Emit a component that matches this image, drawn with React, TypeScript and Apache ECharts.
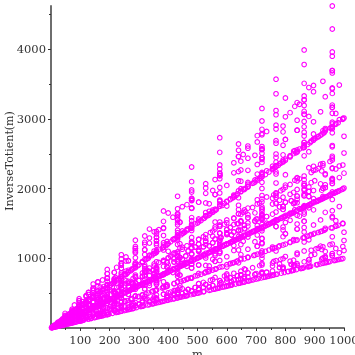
import React, { useEffect, useRef } from "react";
import * as echarts from "echarts";

// Each family: one m list followed by the n lists plotted at those m.
const aM = [2,4,6,10,12,16,18,22,28,30,36,40,42,46,52,58,60,66,70,72,78,82,88,96,100,102,106,108,112,126,130,136,138,148,150,156,162,166,172,178,180,190,192,196,198,210,222,226,228,232,238,240,250,256,262,268,270,276,280,282,292,306,310,312,316,330,336,346,348,352,358,366,372,378,382,388,396,400,408,418,420,430,432,438,442,448,456,460,462,466,478,486,490,498,502,508,520,522,540,546,556,562,568,570,576,586,592,598,600,606,612,616,618,630,640,642,646,652,658,660,672,676,682,690,700,708,718,726,732,738,742,750,756,760,768,772,786,796,808,810,820,822,826,828,838,852,856,858,862,876,880,882,886,906,910,918,928,936,940,946,952,966,970,976,982,990,996];
const aN1 = [3,5,7,11,13,17,19,23,29,31,37,41,43,47,53,59,61,67,71,73,79,83,89,97,101,103,107,109,113,127,131,137,139,149,151,157,163,167,173,179,181,191,193,197,199,211,223,227,229,233,239,241,251,257,263,269,271,277,281,283,293,307,311,313,317,331,337,347,349,353,359,367,373,379,383,389,397,401,409,419,421,431,433,439,443,449,457,461,463,467,479,487,491,499,503,509,521,523,541,547,557,563,569,571,577,587,593,599,601,607,613,617,619,631,641,643,647,653,659,661,673,677,683,691,701,709,719,727,733,739,743,751,757,761,769,773,787,797,809,811,821,823,827,829,839,853,857,859,863,877,881,883,887,907,911,919,929,937,941,947,953,967,971,977,983,991,997];
const aN2 = [6,10,14,22,26,34,38,46,58,62,74,82,86,94,106,118,122,134,142,146,158,166,178,194,202,206,214,218,226,254,262,274,278,298,302,314,326,334,346,358,362,382,386,394,398,422,446,454,458,466,478,482,502,514,526,538,542,554,562,566,586,614,622,626,634,662,674,694,698,706,718,734,746,758,766,778,794,802,818,838,842,862,866,878,886,898,914,922,926,934,958,974,982,998,1006,1018,1042,1046,1082,1094,1114,1126,1138,1142,1154,1174,1186,1198,1202,1214,1226,1234,1238,1262,1282,1286,1294,1306,1318,1322,1346,1354,1366,1382,1402,1418,1438,1454,1466,1478,1486,1502,1514,1522,1538,1546,1574,1594,1618,1622,1642,1646,1654,1658,1678,1706,1714,1718,1726,1754,1762,1766,1774,1814,1822,1838,1858,1874,1882,1894,1906,1934,1942,1954,1966,1982,1994];

const bM = [8,12,20,24,32,36,44,56,60,72,80,84,92,104,116,120,132,140,144,156,164,176,192,200,204,212,216,224,252,260,272,276,296,300,312,324,332,344,356,360,380,384,392,396,420,444,452,456,464,476,480,500,512,524,536,540,552,560,564,584,612,620,624,632,660,672,692,696,704,716,732,744,756,764,776,792,800,816,836,840,860,864,876,884,896,912,920,924,932,956,972,980,996];
const bN1 = [15,21,33,39,51,57,69,87,93,111,123,129,141,159,177,183,201,213,219,237,249,267,291,303,309,321,327,339,381,393,411,417,447,453,471,489,501,519,537,543,573,579,591,597,633,669,681,687,699,717,723,753,771,789,807,813,831,843,849,879,921,933,939,951,993,1011,1041,1047,1059,1077,1101,1119,1137,1149,1167,1191,1203,1227,1257,1263,1293,1299,1317,1329,1347,1371,1383,1389,1401,1437,1461,1473,1497];
const bN2 = [20,28,44,52,68,76,92,116,124,148,164,172,188,212,236,244,268,284,292,316,332,356,388,404,412,428,436,452,508,524,548,556,596,604,628,652,668,692,716,724,764,772,788,796,844,892,908,916,932,956,964,1004,1028,1052,1076,1084,1108,1124,1132,1172,1228,1244,1252,1268,1324,1348,1388,1396,1412,1436,1468,1492,1516,1532,1556,1588,1604,1636,1676,1684,1724,1732,1756,1772,1796,1828,1844,1852,1868,1916,1948,1964,1996];
const bN3 = [30,42,66,78,102,114,138,174,186,222,246,258,282,318,354,366,402,426,438,474,498,534,582,606,618,642,654,678,762,786,822,834,894,906,942,978,1002,1038,1074,1086,1146,1158,1182,1194,1266,1338,1362,1374,1398,1434,1446,1506,1542,1578,1614,1626,1662,1686,1698,1758,1842,1866,1878,1902,1986,2022,2082,2094,2118,2154,2202,2238,2274,2298,2334,2382,2406,2454,2514,2526,2586,2598,2634,2658,2694,2742,2766,2778,2802,2874,2922,2946,2994];

const cM = [24,40,48,64,72,88,112,120,144,160,168,184,208,232,240,264,280,288,312,328,352,384,400,408,424,432,448,504,520,544,552,592,600,624,648,664,688,712,720,760,768,784,792,840,888,904,912,928,952,960,1000];
const cN1 = [35,55,65,85,95,115,145,155,185,205,215,235,265,295,305,335,355,365,395,415,445,485,505,515,535,545,565,635,655,685,695,745,755,785,815,835,865,895,905,955,965,985,995,1055,1115,1135,1145,1165,1195,1205,1255];
const cN2 = [56,88,104,136,152,184,232,248,296,328,344,376,424,472,488,536,568,584,632,664,712,776,808,824,856,872,904,1016,1048,1096,1112,1192,1208,1256,1304,1336,1384,1432,1448,1528,1544,1576,1592,1688,1784,1816,1832,1864,1912,1928,2008];
const cN3 = [70,110,130,170,190,230,290,310,370,410,430,470,530,590,610,670,710,730,790,830,890,970,1010,1030,1070,1090,1130,1270,1310,1370,1390,1490,1510,1570,1630,1670,1730,1790,1810,1910,1930,1970,1990,2110,2230,2270,2290,2330,2390,2410,2510];
const cN4 = [84,132,156,204,228,276,348,372,444,492,516,564,636,708,732,804,852,876,948,996,1068,1164,1212,1236,1284,1308,1356,1524,1572,1644,1668,1788,1812,1884,1956,2004,2076,2148,2172,2292,2316,2364,2388,2532,2676,2724,2748,2796,2868,2892,3012];

const dM = [60,72,96,108,132,168,180,216,240,252,276,312,348,360,396,420,432,468,492,528,576,600,612,636,648,672,756,780,816,828,888,900,936,972,996];
const dN1 = [77,91,119,133,161,203,217,259,287,301,329,371,413,427,469,497,511,553,581,623,679,707,721,749,763,791,889,917,959,973,1043,1057,1099,1141,1169];
const dN2 = [99,117,153,171,207,261,279,333,369,387,423,477,531,549,603,639,657,711,747,801,873,909,927,963,981,1017,1143,1179,1233,1251,1341,1359,1413,1467,1503];
const dN3 = [154,182,238,266,322,406,434,518,574,602,658,742,826,854,938,994,1022,1106,1162,1246,1358,1414,1442,1498,1526,1582,1778,1834,1918,1946,2086,2114,2198,2282,2338];
const dN4 = [198,234,306,342,414,522,558,666,738,774,846,954,1062,1098,1206,1278,1314,1422,1494,1602,1746,1818,1854,1926,1962,2034,2286,2358,2466,2502,2682,2718,2826,2934,3006];

const eM = [48,80,96,128,144,176,224,240,288,320,336,368,416,464,480,528,560,576,624,656,704,768,800,816,848,864,896];
const eN1 = [105,165,195,255,285,345,435,465,555,615,645,705,795,885,915,1005,1065,1095,1185,1245,1335,1455,1515,1545,1605,1635,1695];
const eN2 = [112,176,208,272,304,368,464,496,592,656,688,752,848,944,976,1072,1136,1168,1264,1328,1424,1552,1616,1648,1712,1744,1808];
const eN3 = [140,220,260,340,380,460,580,620,740,820,860,940,1060,1180,1220,1340,1420,1460,1580,1660,1780,1940,2020,2060,2140,2180,2260];
const eN4 = [168,264,312,408,456,552,696,744,888,984,1032,1128,1272,1416,1464,1608,1704,1752,1896,1992,2136,2328,2424,2472,2568,2616,2712];
const eN5 = [210,330,390,510,570,690,870,930,1110,1230,1290,1410,1590,1770,1830,2010,2130,2190,2370,2490,2670,2910,3030,3090,3210,3270,3390];

const fM = [120,160,180,220,280,300,360,400,420,460,520,580,600,660,700,720,780,820,880,960,1000];
const fN1 = [143,187,209,253,319,341,407,451,473,517,583,649,671,737,781,803,869,913,979,1067,1111];
const fN2 = [286,374,418,506,638,682,814,902,946,1034,1166,1298,1342,1474,1562,1606,1738,1826,1958,2134,2222];

const gM = [120,192,216,264,336,360,432,480,504,552,624,696,720,792,840,864,936,984];
const gN1 = [143,221,247,299,377,403,481,533,559,611,689,767,793,871,923,949,1027,1079];
const gN2 = [231,357,399,483,609,651,777,861,903,987,1113,1239,1281,1407,1491,1533,1659,1743];
const gN3 = [286,442,494,598,754,806,962,1066,1118,1222,1378,1534,1586,1742,1846,1898,2054,2158];
const gN4 = [308,476,532,644,812,868,1036,1148,1204,1316,1484,1652,1708,1876,1988,2044,2212,2324];
const gN5 = [396,612,684,828,1044,1116,1332,1476,1548,1692,1908,2124,2196,2412,2556,2628,2844,2988];
const gN6 = [462,714,798,966,1218,1302,1554,1722,1806,1974,2226,2478,2562,2814,2982,3066,3318,3486];

const hM = [96,160,192,288,352,448,480,576,640,672,736,832,928,960];
const hN1 = [119,187,221,323,391,493,527,629,697,731,799,901,1003,1037];
const hN2 = [224,352,416,608,736,928,992,1184,1312,1376,1504,1696,1888,1952];
const hN3 = [238,374,442,646,782,986,1054,1258,1394,1462,1598,1802,2006,2074];
const hN4 = [280,440,520,760,920,1160,1240,1480,1640,1720,1880,2120,2360,2440];
const hN5 = [336,528,624,912,1104,1392,1488,1776,1968,2064,2256,2544,2832,2928];
const hN6 = [420,660,780,1140,1380,1740,1860,2220,2460,2580,2820,3180,3540,3660];

const iM = [72,108,180,216,288,396,504,540,648,720,756,828,936];
const iN1 = [95,133,209,247,323,437,551,589,703,779,817,893,1007];
const iN2 = [135,189,297,351,459,621,783,837,999,1107,1161,1269,1431];
const iN3 = [190,266,418,494,646,874,1102,1178,1406,1558,1634,1786,2014];
const iN4 = [270,378,594,702,918,1242,1566,1674,1998,2214,2322,2538,2862];

const jM = [120,240,320,360,440,560,600,720,800,840,920];
const jN1 = [175,325,425,475,575,725,775,925,1025,1075,1175];
const jN2 = [231,429,561,627,759,957,1023,1221,1353,1419,1551];
const jN3 = [308,572,748,836,1012,1276,1364,1628,1804,1892,2068];
const jN4 = [350,650,850,950,1150,1450,1550,1850,2050,2150,2350];
const jN5 = [462,858,1122,1254,1518,1914,2046,2442,2706,2838,3102];

const kM = [44,88,132,220,264,352,396,616,660,792,880,924];
const kN1 = [69,115,161,253,299,391,437,667,713,851,943,989];
const kN2 = [138,230,322,506,598,782,874,1334,1426,1702,1886,1978];

// One row per m: the m first, then the n plotted at it.
const rowsLow = [
  [240,385,429,495,572,616,770,792,858,924,990,287,525,574,700,1050,305,465,610,620,930],
  [384,595,663,765,884,952,1190,1224,1326,1428,1530,485,970,1120,1440,1680],
  [432,665,741,855,988,1064,1330,1368,1482,1596,1710,511,777,819,945,1022,1036,1512,1554,1638,1890,545,1090,1620],
  [528,805,897,1035,1196,1288,1610,1656,1794,1932,2070,623,1246],
  [672,1015,1131,1305,1508,1624,2030,2088,2262,2436,2610,791,1582],
  [720,1085,1209,1395,1612,1736,2170,2232,2418,2604,2790,1001,1575,1708,2002,2562,2772,3150,1045,1221,1287,1485,1628,1672,2090,2376,2442,2508,2574,2970],
  [864,1295,1443,1665,1924,2072,2590,2664,2886,3108,3330,1533,1995,2044,2128,2660,3066,3192,3780,3990,1235,1755,1898,1976,2470,2808,2964,3276,3510,1105,1377,2754,1736],
  [960,1435,1599,1845,2132,2296,2870,2952,3198,3444,3690,1037,1309,1581,1683,2074,2108,2618,3162,3366,1067,2134,2145,2288,2464,3080,3168,3432,3696,3960,4290,4620,2600,2860,3900,2800],
  [288,455,585,728,910,936,1092,1170],
  [56,87,174],[112,145,290],[168,203,406],[280,319,638],[336,377,754,1419],[448,493,986],[504,551,1102,903,1204,1806,559,1118,1274,637],[616,667,1334],[840,899,1798,1419,1617,1892,2156,2838,3234],
  [60,93,186],[300,341,682],[540,589,1178,891,1782],[660,713,1426,737,847,1474,1694],
  [192,357,448,476,560,672,714,840],[320,561,704,748,880,1056,1122,1320],[576,969,1216,1292,1520,1824,1938,2280,1095,1365,1460,1820,2190,2220,2730],[704,1173,1472,1564,1840,2208,2346,2760],[896,1479,1856,1972,2320,2784,2958,3480],
  [144,185,285,315,370,380,540,570,630],[396,469,938],[648,763,1197,1526,2268,2394,1053,2106,1539],
  [792,851,1311,1449,1702,1748,2484,2622,2898,871,1742],
];
const rowsHigh = [
  [360,407,627,693,814,836,1188,1254,1386,427,651,854,868,1302],
  [432,481,962,1404,1638],
  [576,1071,1258,1836,2142,679,1358,2016,2184,2520],
  [648,703],
  [480,533,715,975,1066,1144,1300,1430,1716,1950,1155,1232,1540,1584,1848,1980,2310,861,1400,1722,2100,915,1220,1830,1860],
  [640,697,935,1275,1394,1496,1700,1870,2244,2550,1120,1408,1760,2112,2640,1640,2460],
  [720,1425,1558,1900,2850],
  [880,1265,1725,1886,2024,2300,2530,3036,3450,979,1958],
  [420,473,539,946,1078,497,994],
  [756,931,1862],[924,2254,1127],
  [176,255,345],[264,483,644,966],[440,759,1012,1518,605,1210],[704,1173],
  [460,517,1034],[552,611,1222],[736,799,1598],[828,893,1786],[276,329,658],
  [768,1105,1785,1792,1904,2210,2240,2380,2448,2652,2688,2856,3060,3360,3570,1664,2080,2496,3120,1456,1872],
  [312,371,742],[520,583,1166],[624,689,1378],[832,901,1802],[936,1007,2014],
  [324,405,810],[972,1539,3078],
  [560,957,1276,1914,1040,1520],[348,413,826],[580,649,1298],[696,767,1534],[928,1003,2006],
  [468,553,1106],[780,869,1738],[492,581,1162],[820,913,1826],
  [800,1353,1804,2200,2706,3300],
  [600,707,875,1414,1750,1342,1364],[1000,1375,2750],[612,721,1442],[636,749,1498],
  [220,363,726],
];
const rowsDense = [
  [48,65,104,130,144,156,180],
  [72,91,111,117,146,148,152,182,216,222,228,234,252],
  [96,97,153,194,208,260,306,312,360,390],
  [120,155,183,225,244,248,310,366,372,450],
  [128,256,320,340,384,408,480,510],
  [144,219,273,292,296,304,364,438,444,456,468,504,546],
  [160,205,328,400,410,440,492,528,600,660],
  [168,169,338,392,588],
  [192,221,388,416,442,582,612,624,720,780],
  [200,275,550],
  [216,259,351,378,434,518,798,702,532],
  [240,369,488,496,650,732,738,900],
  [252,381,508,762,774],
  [256,544,640,680,768,816,960,1020],
  [288,578,646,459,864,912,1008,1080,1140,1260,323],
  [320,451,800,902,1200],
  [360,675,1350,1212],
  [400,825,1000,1100,1650],
  [432,1296,1197,1278],
  [576,2340],
];

const yMajor = [1000, 2000, 3000, 4000];
const yMinor = [500, 1500, 2500, 3500, 4500];
const xMajor = [100, 200, 300, 400, 500, 600, 700, 800, 900, 1000];
const xMinor = [50, 150, 250, 350, 450, 550, 650, 750, 850, 950];

const families: [number[], number[][]][] = [
  [aM, [aN1, aN2]], [bM, [bN1, bN2, bN3]], [cM, [cN1, cN2, cN3, cN4]],
  [dM, [dN1, dN2, dN3, dN4]], [eM, [eN1, eN2, eN3, eN4, eN5]], [fM, [fN1, fN2]],
  [gM, [gN1, gN2, gN3, gN4, gN5, gN6]], [hM, [hN1, hN2, hN3, hN4, hN5, hN6]],
  [iM, [iN1, iN2, iN3, iN4]], [jM, [jN1, jN2, jN3, jN4, jN5]], [kM, [kN1, kN2]],
];

function points(): number[][] {
  const out: number[][] = [];
  families.forEach(([ms, lists]) =>
    lists.forEach((ns) => ms.forEach((m, i) => out.push([m, ns[i]]))),
  );
  [...rowsLow, ...rowsHigh, ...rowsDense].forEach(([m, ...ns]) => ns.forEach((n) => out.push([m, n])));
  return out;
}

const FONT = "DejaVu Serif";
const AXIS = "#6e6e6e";
const TEXT = "#333333";
const plain = (v: number) => String(v);

export default function App() {
  const ref = useRef<HTMLDivElement>(null);
  useEffect(() => {
    const chart = echarts.init(ref.current!, undefined, { renderer: "svg" });
    const grid = { left: 51, top: 6, width: 293, height: 322, outerBoundsMode: "none" };
    const xRange = { type: "value" as const, min: 0, max: 1000, splitLine: { show: false } };
    const yRange = { type: "value" as const, min: 0, max: 4620, splitLine: { show: false } };
    chart.setOption({
      animation: false,
      grid,
      xAxis: [
        {
          ...xRange,
          name: "m",
          nameLocation: "middle",
          nameGap: 20,
          nameMoveOverlap: false,
          nameTextStyle: { fontFamily: FONT, fontSize: 11.5, color: TEXT },
          axisLine: { show: true, onZero: false, lineStyle: { color: AXIS, width: 2 } },
          axisTick: { show: true, length: 3, customValues: xMajor, lineStyle: { color: "#333", width: 1 } },
          axisLabel: { show: true, customValues: xMajor, formatter: plain, margin: 6, hideOverlap: false, fontFamily: FONT, fontSize: 11.5, color: TEXT },
        },
        {
          ...xRange,
          position: "bottom",
          axisLine: { show: false },
          axisTick: { show: true, length: 2, customValues: xMinor, lineStyle: { color: "#333", width: 1 } },
          axisLabel: { show: false },
        },
      ],
      yAxis: [
        {
          ...yRange,
          name: "InverseTotient(m)",
          nameLocation: "middle",
          nameGap: 36,
          nameRotate: 90,
          nameMoveOverlap: false,
          nameTextStyle: { fontFamily: FONT, fontSize: 11, color: TEXT, padding: [0, 0, 0, 12] },
          axisLine: { show: true, onZero: false, lineStyle: { color: AXIS, width: 2 } },
          axisTick: { show: true, length: 3, customValues: yMajor, lineStyle: { color: "#333", width: 1 } },
          axisLabel: { show: true, customValues: yMajor, formatter: plain, margin: 5, hideOverlap: false, fontFamily: FONT, fontSize: 11.5, color: TEXT },
        },
        {
          ...yRange,
          position: "left",
          axisLine: { show: false },
          axisTick: { show: true, length: 2, customValues: yMinor, lineStyle: { color: "#333", width: 1 } },
          axisLabel: { show: false },
        },
      ],
      series: [
        {
          type: "scatter",
          clip: false,
          data: points(),
          symbol: "circle",
          symbolSize: 4.6,
          itemStyle: { color: "none", borderColor: "#ff00ff", borderWidth: 1.1, opacity: 1 },
        },
      ],
    });
    return () => chart.dispose();
  }, []);
  return <div ref={ref} style={{ position: "fixed", left: 0, top: 0, width: 355, height: 355 }} />;
}
